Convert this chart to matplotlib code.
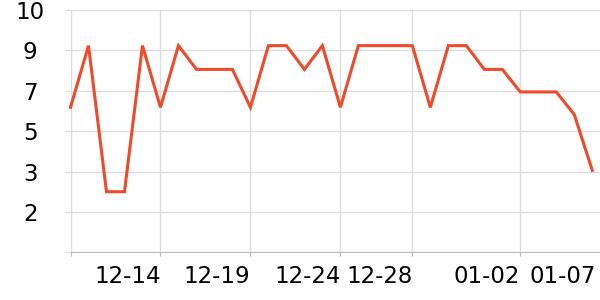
import matplotlib.pyplot as plt
import numpy as np

# values
values = [6.1, 8.7, 2.55, 2.55, 8.7, 6.1, 8.7, 7.7, 7.7, 7.7,
          6.1, 8.7, 8.7, 7.7, 8.7, 6.1, 8.7, 8.7, 8.7, 8.7,
          6.1, 8.7, 8.7, 7.7, 7.7, 6.75, 6.75, 6.75, 5.8, 3.45]
tick_pos = [0, 5, 10, 15, 19, 25]
tick_labels = ['', '12-14', '12-19', '12-24', '12-28', '01-02']
last_label = '01-07'
ytick_vals = [0, 1.7, 3.4, 5.1, 6.8, 8.5, 10.2]
ytick_labels = ['', '2', '3', '5', '7', '9', '10']

x = np.arange(len(values))

fig = plt.figure(figsize=(6, 3), dpi=100)
ax = fig.add_axes([70.5 / 600, 1 - 252.3 / 300, 1 - 70.5 / 600, (252.3 - 10) / 300])

ax.plot(x, values, color='#ee4a2c', linewidth=2.2, solid_joinstyle='miter', clip_on=False, zorder=3)

ax.set_xlim(0, 29.43)
ax.set_ylim(0, 10.2)

fs = 16.5
ax.set_xticks(tick_pos)
ax.set_xticklabels(tick_labels, ha='right', fontsize=fs)
ax.set_xticks([29.23], minor=True)
ax.set_xticklabels([last_label], minor=True, ha='right', fontsize=fs)
ax.tick_params(axis='x', which='minor', length=0, pad=9)
ax.tick_params(axis='x', which='major', length=3, color='#bbbbbb', pad=6.5)

ax.set_yticks(ytick_vals)
ax.set_yticklabels(ytick_labels, ha='center', fontsize=fs)
ax.tick_params(axis='y', length=4, color='#dddddd', pad=25)

ax.grid(True, which='major', color='#dddddd', linewidth=1)
ax.set_axisbelow(True)
for s in ['top', 'right']:
    ax.spines[s].set_visible(False)
ax.spines['left'].set_color('#dddddd')
ax.spines['bottom'].set_color('#bbbbbb')

fig.savefig('out.png', dpi=100)
